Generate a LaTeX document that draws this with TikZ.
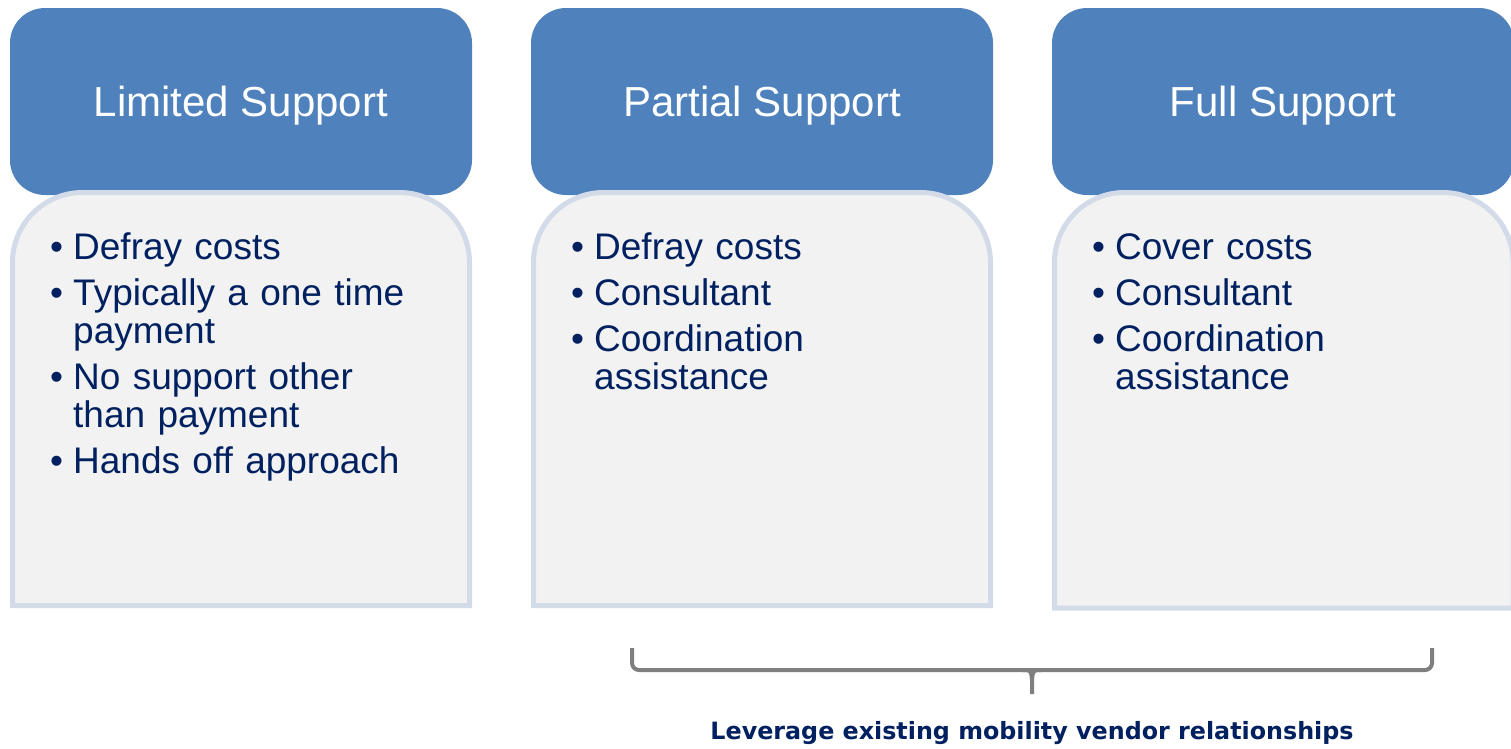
\documentclass[tikz,border=0pt]{standalone}
\usepackage{fontspec}
\setmainfont{Liberation Sans}
\newfontfamily\labfont{DejaVu Sans}
\definecolor{hdrblue}{HTML}{4F81BD}
\definecolor{bodyfill}{HTML}{F2F2F2}
\definecolor{bodyline}{HTML}{D3DBE9}
\definecolor{navy}{HTML}{002060}
\definecolor{bracegray}{HTML}{7F7F7F}
\newcommand\bfirst[1]{\hangindent=23pt\hangafter=1\noindent\makebox[23pt][l]{\textbullet}#1}
\newcommand\bitem[1]{\par\vskip 8pt\hangindent=23pt\hangafter=1\noindent\makebox[23pt][l]{\textbullet}#1}
\newcommand\brk{\hfil\break}
\tikzset{
  hdr/.style={fill=hdrblue, rounded corners=35pt, minimum width=462pt, minimum height=187pt,
    text=white, font=\fontsize{42}{48}\selectfont, inner sep=0pt, text depth=0pt},
  body/.style={fill=bodyfill, draw=bodyline, line width=5pt},
  blist/.style={anchor=north west, inner sep=0pt, text=navy, text width=420pt, align=left,
    font=\fontsize{37}{38}\selectfont},
  bracestyle/.style={draw=bracegray, line width=4pt},
  lab/.style={text=navy, font=\labfont\bfseries\fontsize{23.8}{28}\selectfont, inner sep=0pt, anchor=base}
}
\begin{document}
\begin{tikzpicture}[x=1pt,y=-1pt]
\useasboundingbox (0,0) rectangle (1511,748);
% headers
\node[hdr] (h1) at (241,101.5) {Limited Support};
\node[hdr] (h2) at (762,101.5) {Partial Support};
\node[hdr] (h3) at (1283,101.5) {Full Support};
% bodies
\draw[body] (12.5,605.5) -- (12.5,400) [rounded corners=70pt] -- (12.5,192.5) -- (469.5,192.5) -- (469.5,400) [sharp corners] -- (469.5,605.5) -- cycle;
\draw[body] (533.5,605.5) -- (533.5,400) [rounded corners=70pt] -- (533.5,192.5) -- (990.5,192.5) -- (990.5,400) [sharp corners] -- (990.5,605.5) -- cycle;
\draw[body] (1054.5,608) -- (1054.5,400) [rounded corners=70pt] -- (1054.5,192.5) -- (1513,192.5) -- (1513,400) [sharp corners] -- (1513,608) -- cycle;
% lists
\node[blist] (l1) at (50,233) {\bfirst{Defray costs}\bitem{Typically a one time\brk payment}\bitem{No support other\brk than payment}\bitem{Hands off approach}\par};
\node[blist] (l2) at (571,233) {\bfirst{Defray costs}\bitem{Consultant}\bitem{Coordination\brk assistance}\par};
\node[blist] (l3) at (1092,233) {\bfirst{Cover costs}\bitem{Consultant}\bitem{Coordination\brk assistance}\par};
% brace
\coordinate (bl) at (632,648);
\coordinate (br) at (1432,648);
\coordinate (bm) at (1032,694);
\draw[bracestyle, rounded corners=7pt] (bl) -- (bl |- 0,670) -- (br |- 0,670) -- (br);
\draw[bracestyle] (1022,670) .. controls (1031,670) .. (1032,680) -- (bm);
\draw[bracestyle] (1042,670) .. controls (1033,670) .. (1032,680);
\node[lab] (lab) at (1032,739) {Leverage existing mobility vendor relationships};
\end{tikzpicture}
\end{document}
